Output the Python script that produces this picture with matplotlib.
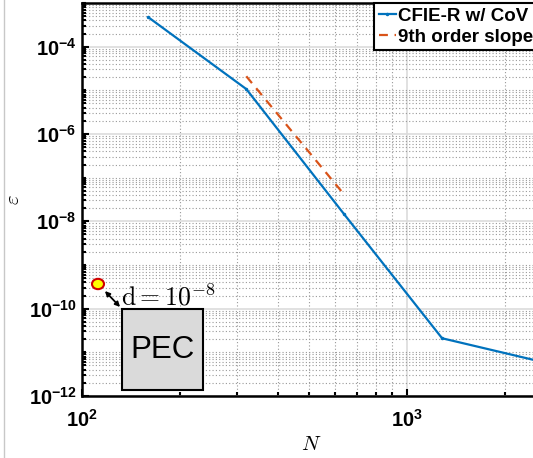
import matplotlib
matplotlib.use('Agg')
import matplotlib.pyplot as plt
import numpy as np
from matplotlib.ticker import LogLocator, NullFormatter, FuncFormatter
from matplotlib.patches import Rectangle, Circle
from matplotlib.lines import Line2D

plt.rcParams['font.family'] = ['Liberation Sans', 'DejaVu Sans']
plt.rcParams['mathtext.fontset'] = 'custom'
plt.rcParams['mathtext.rm'] = 'Liberation Sans:bold'
plt.rcParams['mathtext.it'] = 'Liberation Sans:bold'
plt.rcParams['mathtext.bf'] = 'Liberation Sans:bold'

# Data
n_cov = [160, 320, 640, 1280, 2560]
err_cov = [4.7e-4, 1.07e-5, 1.45e-8, 2.1e-11, 6.2e-12]
n_slope = [320, 640]
err_slope = [2.1e-5, 4.1e-8]
labels = ['CFIE-R w/ CoV', '9th order slope']

W, H = 533, 458
fig = plt.figure(figsize=(W / 100, H / 100), dpi=100)
ax = fig.add_axes([82 / W, 62 / H, 458 / W, 393 / H])

ax.loglog(n_cov, err_cov, '-', color='#0072BD', lw=1.6, marker='.', ms=3, label=labels[0])
ax.loglog(n_slope, err_slope, '--', color='#D95319', lw=1.6, label=labels[1], dashes=(4, 3))

ax.set_xlim(100, 2560)
ax.set_ylim(1e-12, 1e-3)
ax.set_yticks([1e-12, 1e-10, 1e-8, 1e-6, 1e-4])
ax.yaxis.set_minor_locator(LogLocator(base=10, subs='all', numticks=30))
ax.yaxis.set_minor_formatter(NullFormatter())
ax.set_xticks([100, 1000])
ax.xaxis.set_minor_locator(LogLocator(base=10, subs=range(2, 10), numticks=30))
ax.xaxis.set_minor_formatter(NullFormatter())

pow_fmt = FuncFormatter(lambda v, pos: r'$\mathbf{10^{%d}}$' % round(np.log10(v)))
ax.xaxis.set_major_formatter(pow_fmt)
ax.yaxis.set_major_formatter(pow_fmt)

ax.grid(which='major', color='#dcdcdc', lw=1.2, ls='-')
ax.grid(which='minor', color='#999999', lw=0.8, ls=(0, (1, 2)))
ax.set_axisbelow(True)

ax.tick_params(which='both', direction='in', top=False, right=False, width=1.5)
ax.tick_params(which='major', length=5, labelsize=14.5)
ax.tick_params(axis='y', which='major', pad=4)
ax.tick_params(axis='x', which='major', pad=9)
ax.tick_params(which='minor', length=3)
for s in ax.spines.values():
    s.set_linewidth(1.8)

ax.set_xlabel(r'$\mathit{N}$', fontsize=15, math_fontfamily='cm')
ax.set_ylabel(r'$\varepsilon$', fontsize=15, math_fontfamily='cm')
ax.xaxis.set_label_coords(0.5, -0.1)
ax.yaxis.set_label_coords(-0.128, 0.5)

leg = ax.legend(loc='upper left', bbox_to_anchor=(374 / W, 1 - 3 / H), bbox_transform=fig.transFigure,
                fancybox=False, framealpha=1, edgecolor='black', handlelength=0.9, handletextpad=0.15,
                borderpad=0.25, labelspacing=0.2, borderaxespad=0,
                prop={'weight': 'bold', 'size': 13.5})
leg.get_frame().set_linewidth(1.5)

# PEC inset sketch
fig.patches.append(Rectangle((122 / W, 1 - 390 / H), 81 / W, 81 / H, transform=fig.transFigure,
                             facecolor='#dadada', edgecolor='black', lw=1.5, zorder=5))
fig.text(162.5 / W, 1 - 350 / H, 'PEC', fontsize=22.5, ha='center', va='center', zorder=6)
fig.patches.append(Circle((98 / W, 1 - 284 / H), 6 / W, transform=fig.transFigure,
                          facecolor='#ffff00', edgecolor='#d00000', lw=1.5, zorder=6))
ax.annotate('', xy=(103 / W, 1 - 289 / H), xytext=(122 / W, 1 - 309 / H),
            xycoords='figure fraction', textcoords='figure fraction',
            arrowprops=dict(arrowstyle='<|-|>', color='black', lw=1.3, mutation_scale=7), zorder=6)
fig.text(121 / W, 1 - 305 / H, r'$\mathrm{d}=10^{-8}$', fontsize=18.5, math_fontfamily='cm',
         ha='left', va='baseline', zorder=6)

fig.add_artist(Line2D([3.5 / W, 3.5 / W], [0, 1], color='#c8c8c8', lw=1))

fig.savefig('out.png', dpi=100)
